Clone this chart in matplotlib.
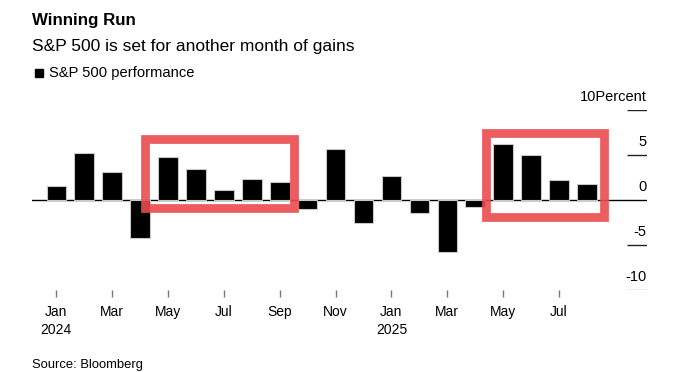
import numpy as np
import matplotlib.pyplot as plt
from matplotlib.patches import Rectangle

plt.rcParams['font.family'] = ['Liberation Sans', 'DejaVu Sans']

# ============================================================
# Data: S&P 500 monthly performance (%), Jan 2024 - Aug 2025
# ============================================================

months = ["Jan", "Feb", "Mar", "Apr", "May", "Jun", "Jul", "Aug", "Sep", "Oct",
          "Nov", "Dec", "Jan", "Feb", "Mar", "Apr", "May", "Jun", "Jul", "Aug"]
years = [2024] * 12 + [2025] * 8
perf = [1.6, 5.2, 3.1, -4.2, 4.8, 3.5, 1.1, 2.3, 2.0, -1.0,
        5.7, -2.5, 2.7, -1.4, -5.8, -0.8, 6.2, 5.0, 2.2, 1.8]

y_ticks = [10, 5, 0, -5, -10]

# highlight boxes: (first bar, last bar, left pad, right pad, top, bottom)
highlights = [(4, 8, 0.82, 0.52, 6.8, -0.9),
              (16, 19, 0.6, 0.6, 7.5, -1.85)]

# ============================================================
# Figure
# ============================================================

fig = plt.figure(figsize=(6.81, 3.72), dpi=100)
ax = fig.add_axes([32 / 681, 82 / 372, 615 / 681, 180 / 372])

x = np.arange(len(perf))
ax.bar(x, perf, width=0.7, color="black", edgecolor="#c8c8c8", linewidth=0.8, zorder=2)
ax.axhline(0, color="black", lw=1, zorder=1)

x_lo, x_hi = -0.87, 21.15
ax.set_xlim(x_lo, x_hi)
ax.set_ylim(-10, 10)

# right-side y tick dashes and labels
for v in y_ticks:
    c = "#999999" if v == -10 else "#222222"
    if v != 0:
        ax.hlines(v, x_hi - 0.7, x_hi, color=c, lw=1, zorder=1)
    lab = f"{v}Percent" if v == y_ticks[0] else f"{v}"
    ax.text(x_hi - 0.02, v + 1.45, lab, ha="right", va="center", fontsize=10.5, color="black")

# x ticks every two months
tick_idx = x[::2]
ax.set_xticks(tick_idx)
ax.set_xticklabels([f"{months[i]}\n{years[i]}" if months[i] == "Jan" else months[i]
                    for i in tick_idx], fontsize=10, linespacing=1.3)
ax.tick_params(axis="x", length=5, width=1, color="#777777", pad=6)
ax.tick_params(axis="y", left=False, labelleft=False)
for s in ax.spines.values():
    s.set_visible(False)

# red highlight boxes
for a, b, pl, pr, top, bot in highlights:
    ax.add_patch(Rectangle((a - pl, bot), (b + pr) - (a - pl), top - bot,
                           fill=False, edgecolor="#e94b4e", lw=6.3, alpha=0.9,
                           zorder=3, joinstyle="miter"))

# titles and legend
fig.text(32 / 681, 1 - 21 / 372, "Winning Run", fontsize=12.2, fontweight="bold", va="center")
fig.text(32 / 681, 1 - 46 / 372, "S&P 500 is set for another month of gains", fontsize=12.5, va="center")
fig.add_artist(Rectangle((35 / 681, 1 - 77 / 372), 8 / 681, 8 / 372,
                         transform=fig.transFigure, color="black"))
fig.text(49 / 681, 1 - 73 / 372, "S&P 500 performance", fontsize=10.6, va="center")
fig.text(32 / 681, 1 - 365 / 372, "Source: Bloomberg", fontsize=9.4, va="center")

fig.savefig("out.png", dpi=100)
